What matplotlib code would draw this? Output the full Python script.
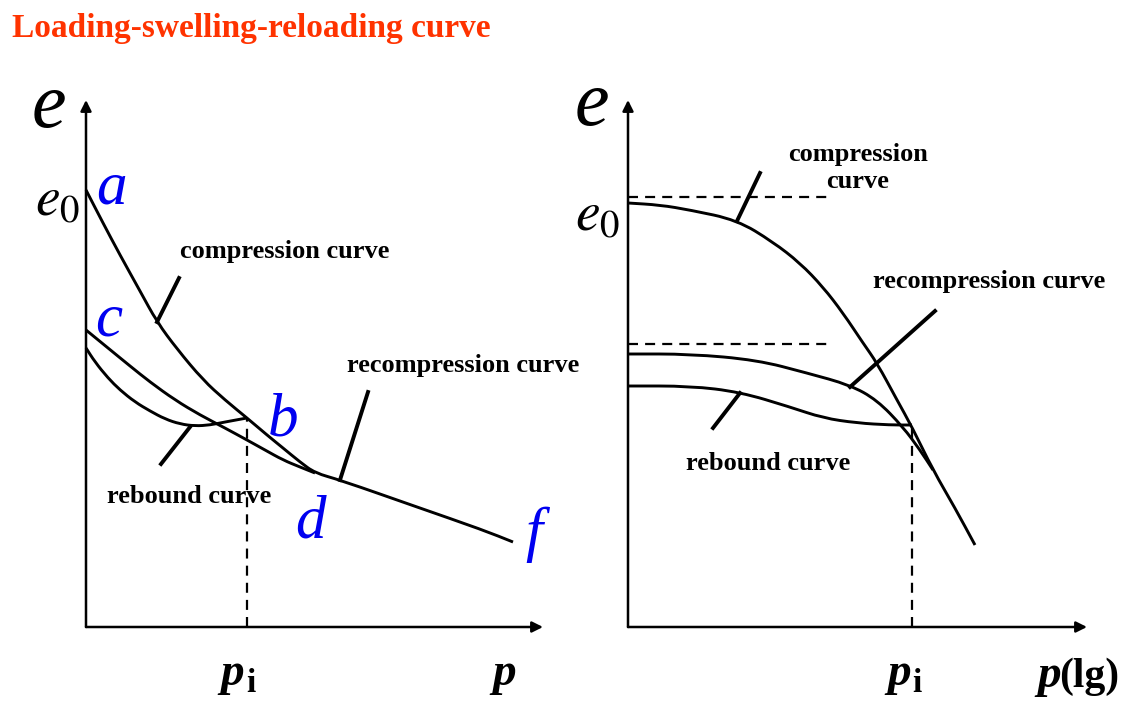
import matplotlib
matplotlib.use("Agg")
import matplotlib.pyplot as plt
from matplotlib.path import Path
from matplotlib.patches import PathPatch

# ---- data (panel units, origin at the axis corner) ----

# left panel: e - p
left_compression_x = [0, 17, 34, 54, 71, 91, 117, 139, 161, 181, 197, 214, 229, 254, 331, 397, 427]
left_compression_y = [437, 404, 372, 336, 305, 278, 247, 227, 209, 192, 179, 165, 154, 147, 120, 97, 85]
left_recompression_x = [0, 22, 44, 64, 89, 114, 139, 161, 179, 197, 214, 229]
left_recompression_y = [297, 279, 261, 245, 227, 212, 199, 187, 177, 167, 160, 154]
left_rebound_x = [0, 9, 22, 34, 49, 64, 79, 94, 109, 124, 139, 161]
left_rebound_y = [279, 265, 249, 237, 225, 216, 208, 203, 201, 202, 205, 209]
left_pi = 161
left_pi_e = 209

# right panel: e - lg p
right_compression_x = [0, 32, 62, 109, 145, 172, 195, 215, 235, 249, 269, 284, 305, 327, 347]
right_compression_y = [424, 422, 417, 407, 385, 364, 340, 314, 284, 264, 227, 200, 157, 119, 82]
right_recompression_x = [0, 62, 129, 179, 222, 249, 275, 292, 305]
right_recompression_y = [273, 273, 267, 254, 242, 227, 200, 177, 157]
right_rebound_x = [0, 62, 112, 162, 195, 229, 262, 284]
right_rebound_y = [241, 241, 235, 220, 209, 204, 202, 202]
right_pi = 284
right_pi_e = 202
right_dash_top = 430
right_dash_low = 283
right_dash_len = 204

# leader lines: (x0, y0, x1, y1)
left_leaders = {
    "compression": (71, 305, 93, 349),
    "rebound": (104, 200, 75, 163),
    "recompression": (254, 147, 282, 235),
}
right_leaders = {
    "compression": (109, 406, 132, 454),
    "recompression": (222, 240, 307, 316),
    "rebound": (112, 234, 85, 199),
}

serif = "Liberation Serif"
plt.rcParams["mathtext.fontset"] = "stix"
DASH = (0, (4.5, 3.2))

fig = plt.figure(figsize=(11.28, 7.04), dpi=100)
W, H = 1128, 704


def make_panel(x0_px, y0_px):
    """Axes whose data units are pixels, origin at (x0_px, y0_px)."""
    ax = fig.add_axes([x0_px / W, (H - y0_px) / H, 460 / W, 540 / H])
    ax.set_xlim(0, 460)
    ax.set_ylim(0, 540)
    ax.axis("off")
    return ax


def draw_axes(ax, x_tip, y_tip):
    for tip in [(x_tip, 0), (0, y_tip)]:
        ax.annotate("", xy=tip, xytext=(0, 0),
                    arrowprops=dict(arrowstyle="-|>", lw=1.8, color="black",
                                    mutation_scale=16, shrinkA=0, shrinkB=0))


def curve(ax, x, y, lw=2.1):
    # smooth the hand-read points with quadratic beziers through the midpoints
    pts = list(zip(x, y))
    mids = [((pts[i][0] + pts[i + 1][0]) / 2, (pts[i][1] + pts[i + 1][1]) / 2)
            for i in range(len(pts) - 1)]
    verts = [pts[0], mids[0]]
    codes = [Path.MOVETO, Path.LINETO]
    for i in range(1, len(pts) - 1):
        verts += [pts[i], mids[i]]
        codes += [Path.CURVE3, Path.CURVE3]
    verts.append(pts[-1])
    codes.append(Path.LINETO)
    ax.add_patch(PathPatch(Path(verts, codes), fill=False, edgecolor="black",
                           lw=lw, joinstyle="round", capstyle="butt", clip_on=False))


def leaders(ax, segs):
    for x0, y0, x1, y1 in segs.values():
        ax.plot([x0, x1], [y0, y1], color="black", lw=2.8, clip_on=False)


def label(ax, x, y, s, size=19, **kw):
    ax.text(x, y, s, family=serif, fontweight="bold", fontsize=size,
            va="baseline", ha="left", **kw)


# ---- left panel ----
axl = make_panel(86, 627)
draw_axes(axl, 457, 527)
curve(axl, left_compression_x, left_compression_y)
curve(axl, left_recompression_x, left_recompression_y)
curve(axl, left_rebound_x, left_rebound_y)
leaders(axl, left_leaders)
axl.plot([left_pi, left_pi], [0, left_pi_e], color="black", lw=1.6,
         linestyle=DASH, clip_on=False)

axl.text(-54, 500, "e", family=serif, style="italic", fontsize=56, va="baseline")
axl.text(-51, 412, r"$e_0$", fontsize=40, va="baseline")
for s, x, y in [("a", 10, 424), ("c", 9, 292), ("b", 182, 192),
                ("d", 209, 90), ("f", 439, 77)]:
    axl.text(x, y, s, family=serif, style="italic", fontsize=44,
             color="#0000F0", va="baseline")
label(axl, 94, 369, "compression curve")
label(axl, 261, 255, "recompression curve")
label(axl, 21, 124, "rebound curve")
axl.text(134, -58, "p", family=serif, style="italic", fontweight="bold", fontsize=34, va="baseline")
label(axl, 160, -65, "i", size=24)
axl.text(406, -58, "p", family=serif, style="italic", fontweight="bold", fontsize=34, va="baseline")

# ---- right panel ----
axr = make_panel(628, 627)
draw_axes(axr, 459, 527)
curve(axr, right_compression_x, right_compression_y)
curve(axr, right_recompression_x, right_recompression_y)
curve(axr, right_rebound_x, right_rebound_y)
leaders(axr, right_leaders)
for yd in [right_dash_top, right_dash_low]:
    axr.plot([0, right_dash_len], [yd, yd], color="black", lw=1.6,
             linestyle=DASH, clip_on=False)
axr.plot([right_pi, right_pi], [0, right_pi_e], color="black", lw=1.6,
         linestyle=DASH, clip_on=False)

axr.text(-53, 502, "e", family=serif, style="italic", fontsize=56, va="baseline")
axr.text(-53, 397, r"$e_0$", fontsize=40, va="baseline")
axr.text(230, 466, "compression", family=serif, fontweight="bold", fontsize=19,
         ha="center", va="baseline")
axr.text(230, 439, "curve", family=serif, fontweight="bold", fontsize=19,
         ha="center", va="baseline")
label(axr, 245, 339, "recompression curve")
label(axr, 58, 157, "rebound curve")
axr.text(259, -58, "p", family=serif, style="italic", fontweight="bold", fontsize=34, va="baseline")
label(axr, 284, -65, "i", size=24)
axr.text(409, -60, "p", family=serif, style="italic", fontweight="bold", fontsize=34, va="baseline")
label(axr, 431, -60, "(lg)", size=30)

# title
fig.text(12 / W, (H - 37) / H, "Loading-swelling-reloading curve", family=serif,
         fontweight="bold", fontsize=24, color="#FF3300", va="baseline")

fig.savefig("out.png", dpi=100)
